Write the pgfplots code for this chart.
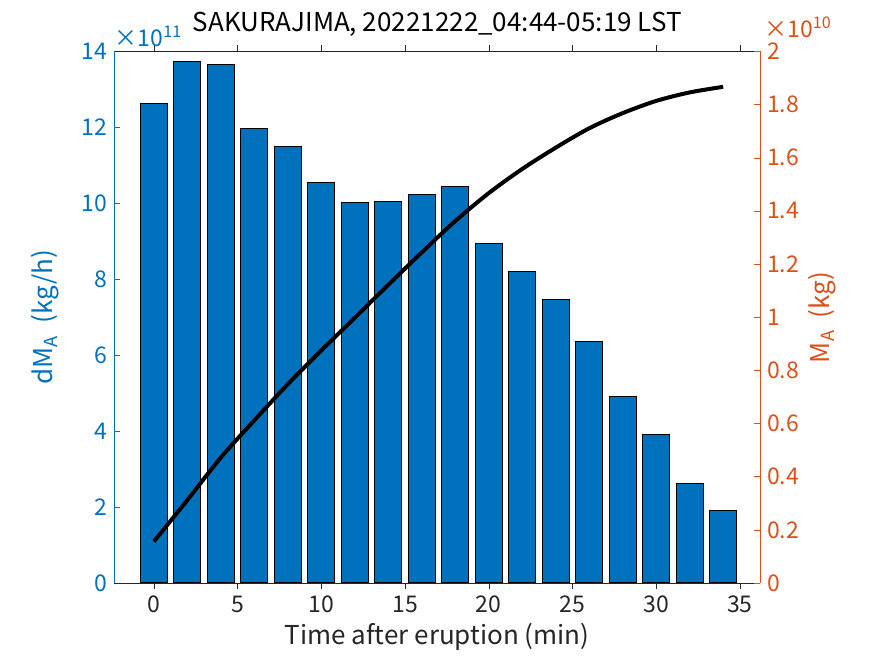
\documentclass[border=0pt]{standalone}
\usepackage{pgfplots}
\pgfplotsset{compat=1.18}
\usepackage{fontspec}
\setmainfont{Noto Sans CJK JP}
\definecolor{mblue}{RGB}{0,114,189}
\definecolor{morange}{RGB}{217,83,25}
\definecolor{axgray}{RGB}{38,38,38}
\pgfplotstableread{
t dM
0 12.63
2 13.74
4 13.66
6 11.97
8 11.50
10 10.55
12 10.02
14 10.05
16 10.23
18 10.44
20 8.94
22 8.20
24 7.46
26 6.35
28 4.90
30 3.90
32 2.63
34 1.92
}\bars
\pgfplotstableread{
t M
0 0.156
2 0.312
4 0.472
6 0.612
8 0.748
10 0.875
12 0.998
14 1.122
16 1.244
18 1.362
20 1.467
22 1.558
24 1.638
26 1.711
28 1.768
30 1.814
32 1.846
34 1.867
}\mass
\begin{document}
\begin{tikzpicture}
\useasboundingbox (0,0) rectangle (437.5pt,328pt);
\pgfplotsset{
  common/.style={
    at={(57.25pt,36.5pt)}, anchor=south west,
    scale only axis, width=322.75pt, height=265.75pt,
    xmin=-2.35, xmax=36.2,
    tick align=inside, major tick length=3pt,
    tick label style={font=\fontsize{11.5}{13}\selectfont},
    /pgf/number format/assume math mode=true,
    scaled y ticks=false,
  }
}
\begin{axis}[common, name=ax1,
  ymin=0, ymax=14,
  axis x line=box, axis y line*=left,
  x axis line style={draw=axgray, line width=0.4pt},
  y axis line style={draw=mblue, line width=0.4pt},
  xtick={0,5,...,35}, ytick={0,2,...,14},
  xtick pos=both,
  x tick style={draw=axgray},
  y tick style={draw=mblue},
  yticklabel style={text=mblue},
  xticklabel style={text=axgray},
  xlabel={Time after eruption (min)},
  xlabel style={font=\fontsize{13}{15}\selectfont, text=axgray, yshift=2pt},
  ylabel={dM\textsubscript{A}\ \ (kg/h)},
  ylabel style={font=\fontsize{13}{15}\selectfont, text=mblue, at={(axis description cs:-0.108,0.5)}, anchor=center},
  title={SAKURAJIMA, 20221222\_04:44-05:19 LST},
  title style={font=\fontsize{13}{15}\selectfont, text=black, at={(axis description cs:0.5,1)}, anchor=base, yshift=4pt},
  ybar, bar width=1.6,
]
\addplot[draw=black, line width=0.5pt, fill=mblue, bar shift=0pt] table[x=t,y=dM]{\bars};
\end{axis}
\begin{axis}[common, name=ax2,
  ymin=0, ymax=2,
  axis x line=none, axis y line*=right,
  y axis line style={draw=morange, line width=0.4pt},
  ytick={0,0.2,0.4,0.6,0.8,1,1.2,1.4,1.6,1.8,2},
  yticklabels={0,0.2,0.4,0.6,0.8,1,1.2,1.4,1.6,1.8,2},
  y tick style={draw=morange},
  yticklabel style={text=morange},
  ylabel={M\textsubscript{A}\ \ (kg)},
  ylabel style={font=\fontsize{13}{15}\selectfont, text=morange, at={(axis description cs:1.096,0.5)}, anchor=center},
]
\addplot[black, line width=2pt, smooth] table[x=t,y=M]{\mass};
\end{axis}
\node[anchor=base west, inner sep=0pt, text=mblue, font=\fontsize{11.5}{13}\selectfont] at ([yshift=2.5pt]ax1.north west) {×10\textsuperscript{11}};
\node[anchor=base west, inner sep=0pt, text=morange, font=\fontsize{11.5}{13}\selectfont] at ([xshift=2pt,yshift=7pt]ax2.north east) {×10\textsuperscript{10}};
\end{tikzpicture}
\end{document}
